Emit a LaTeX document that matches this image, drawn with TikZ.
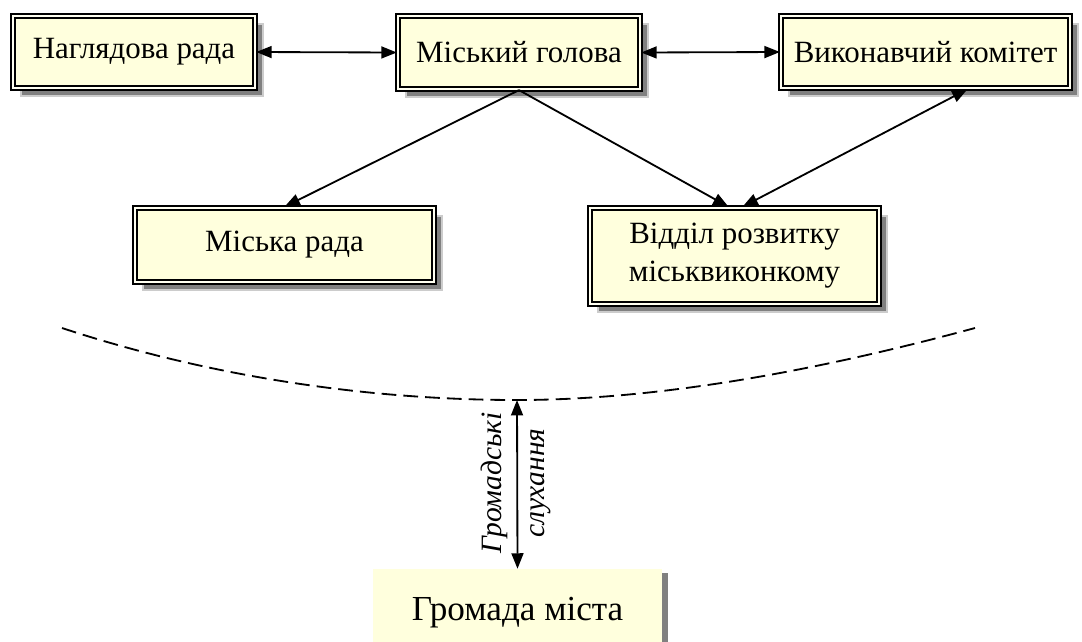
\documentclass[tikz,border=0pt]{standalone}
\usepackage{fontspec}
\setmainfont{Liberation Serif}
\usepackage{tikz}
\usetikzlibrary{arrows.meta,shadows}
\definecolor{cream}{RGB}{255,255,221}
\tikzset{orgbox/.style={draw=black,line width=1.7pt,double=cream!40!white,double distance=1.3pt,fill=cream,align=center,font=\fontsize{22}{27}\selectfont,drop shadow={shadow xshift=0.2cm,shadow yshift=-0.2cm,fill=black!50,draw=black!20,line width=1pt,opacity=1}},
link/.style={line width=1.3pt,-{Triangle[length=11pt,width=8.5pt]}},
both/.style={line width=1.3pt,{Triangle[length=11pt,width=8.5pt]}-{Triangle[length=11pt,width=8.5pt]}}}

\begin{document}
\begin{tikzpicture}[x=0.025cm,y=-0.025cm]
	\clip (0,0) rectangle (1082,641);
	% top row
	\node[orgbox,minimum width=6.05cm,minimum height=1.8cm] (super) at (134,52) {Наглядова рада};
	\node[orgbox,minimum width=6.05cm,minimum height=1.82cm] (mayor) at (519,52.5) {Міський голова};
	\node[orgbox,minimum width=7.22cm,minimum height=1.8cm] (exec) at (925.5,52) {Виконавчий комітет};
	% second row
	\node[orgbox,minimum width=7.47cm,minimum height=1.85cm] (council) at (284.5,245) {Міська рада};
	\node[orgbox,minimum width=7.22cm,minimum height=2.4cm] (dept) at (734.5,256) {Відділ розвитку\\міськвиконкому};
	% community
	\node[fill=cream,minimum width=7.22cm,minimum height=2.2cm,font=\fontsize{25}{30}\selectfont,drop shadow={shadow xshift=0.15cm,shadow yshift=-0.1cm,fill=black!50,opacity=1}] (community) at (517.5,613) {Громада міста};
	\coordinate (dip) at (517,400);

	\draw[both] (super.east) -- (mayor.west);
	\draw[both] (mayor.east) -- (exec.west);
	\draw[link] (mayor.south) -- (council.north);
	\draw[link] (mayor.south) -- ([xshift=-0.15cm]dept.north);
	\draw[both] ([xshift=1.05cm]exec.south) -- ([xshift=0.2cm]dept.north);
	\draw[line width=1.3pt,dash pattern=on 10.5pt off 5pt] (62,328) .. controls (220,380) and (380,400) .. (dip) .. controls (660,400) and (820,370) .. (975,328);
	\draw[both] (dip) -- (community.north);
	\node[rotate=90,align=center,font=\itshape\fontsize{21}{30}\selectfont] (hearing) at (516,483) {Громадські\\слухання};
\end{tikzpicture}
\end{document}
